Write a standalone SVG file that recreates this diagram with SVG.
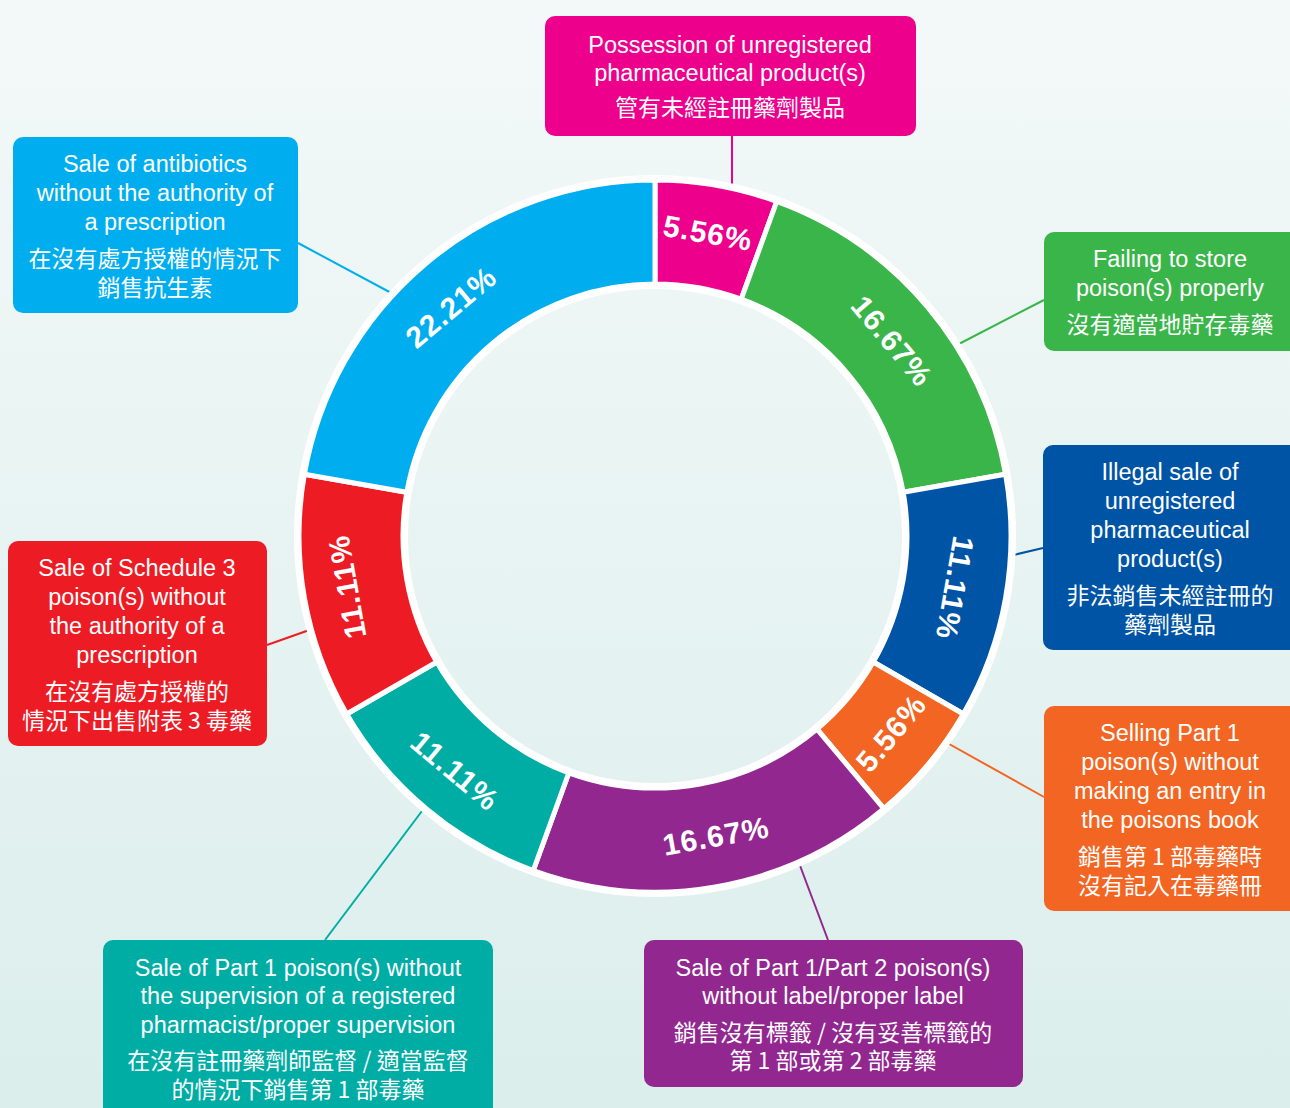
<svg xmlns="http://www.w3.org/2000/svg" width="1290" height="1108" viewBox="0 0 1290 1108">
<defs>
<linearGradient id="bg" gradientUnits="userSpaceOnUse" x1="0" y1="0" x2="0" y2="1108">
<stop offset="0" stop-color="#f3f9f8"/>
<stop offset="1" stop-color="#dbeeec"/>
</linearGradient>
<style>
.en{font-family:"Liberation Sans",Arial,sans-serif;font-size:23.5px;fill:#fff;text-anchor:middle}
.zh{font-family:"Noto Sans CJK TC","Noto Sans CJK SC",sans-serif;font-size:23px;fill:#fff;text-anchor:middle}
.pct{font-family:"Liberation Sans",Arial,sans-serif;font-size:30px;font-weight:bold;fill:#fff;text-anchor:middle;dominant-baseline:central;letter-spacing:1px}
.seg{stroke:#fff;stroke-width:5;stroke-linejoin:miter}
.con{stroke-width:2;fill:none}
</style>
</defs>
<rect width="1290" height="1108" fill="url(#bg)"/>
<g id="connectors">
<line class="con" x1="732" y1="136" x2="732" y2="195" stroke="#ec008c"/>
<line class="con" x1="298" y1="243" x2="395" y2="295" stroke="#00aeef"/>
<line class="con" x1="1044" y1="300" x2="955" y2="346" stroke="#3ab54a"/>
<line class="con" x1="1043" y1="548" x2="1005" y2="557" stroke="#0054a6"/>
<line class="con" x1="267" y1="645" x2="315" y2="628" stroke="#ed1c24"/>
<line class="con" x1="1044" y1="797" x2="942" y2="740" stroke="#f26522"/>
<line class="con" x1="325" y1="940" x2="428" y2="803" stroke="#00ada5"/>
<line class="con" x1="828" y1="940" x2="796" y2="855" stroke="#92278f"/>
</g>
<g id="ring">
<circle cx="655" cy="536" r="361" fill="#fff"/>
<circle cx="655" cy="536" r="247" fill="url(#bg)"/>
<path class="seg" fill="#ec008c" d="M655,180 A356,356 0 0 1 776.76,201.47 L741.19,299.2 A252,252 0 0 0 655,284 Z"/>
<path class="seg" fill="#3ab54a" d="M776.76,201.47 A356,356 0 0 1 1005.59,474.18 L903.17,492.24 A252,252 0 0 0 741.19,299.2 Z"/>
<path class="seg" fill="#0054a6" d="M1005.59,474.18 A356,356 0 0 1 963.31,714 L873.24,662 A252,252 0 0 0 903.17,492.24 Z"/>
<path class="seg" fill="#f26522" d="M963.31,714 A356,356 0 0 1 883.83,808.71 L816.98,729.04 A252,252 0 0 0 873.24,662 Z"/>
<path class="seg" fill="#92278f" d="M883.83,808.71 A356,356 0 0 1 533.24,870.53 L568.81,772.8 A252,252 0 0 0 816.98,729.04 Z"/>
<path class="seg" fill="#00ada5" d="M533.24,870.53 A356,356 0 0 1 346.69,714 L436.76,662 A252,252 0 0 0 568.81,772.8 Z"/>
<path class="seg" fill="#ed1c24" d="M346.69,714 A356,356 0 0 1 304.41,474.18 L406.83,492.24 A252,252 0 0 0 436.76,662 Z"/>
<path class="seg" fill="#00aeef" d="M304.41,474.18 A356,356 0 0 1 655,180 L655,284 A252,252 0 0 0 406.83,492.24 Z"/>
<text class="pct" transform="translate(708,233) rotate(10)">5.56%</text>
<text class="pct" transform="translate(892,341) rotate(50)">16.67%</text>
<text class="pct" transform="translate(955,588) rotate(100)">11.11%</text>
<text class="pct" transform="translate(891,733) rotate(-50)">5.56%</text>
<text class="pct" transform="translate(716,836) rotate(-10)">16.67%</text>
<text class="pct" transform="translate(455,771) rotate(40)">11.11%</text>
<text class="pct" transform="translate(347,587) rotate(-100)">11.11%</text>
<text class="pct" transform="translate(451,307) rotate(-40)">22.21%</text>
</g>
<g id="n-possession">
<rect x="545" y="16" width="371" height="120" rx="10" fill="#ec008c"/>
<text class="en" x="730" y="53">Possession of unregistered</text>
<text class="en" x="730" y="81">pharmaceutical product(s)</text>
<text class="zh" x="730" y="116">管有未經註冊藥劑製品</text>
</g>
<g id="n-antibiotics">
<rect x="13" y="137" width="285" height="176" rx="10" fill="#00aeef"/>
<text class="en" x="155" y="172">Sale of antibiotics</text>
<text class="en" x="155" y="201">without the authority of</text>
<text class="en" x="155" y="230">a prescription</text>
<text class="zh" x="155" y="267">在沒有處方授權的情況下</text>
<text class="zh" x="155" y="296">銷售抗生素</text>
</g>
<g id="n-store">
<rect x="1044" y="232" width="256" height="119" rx="10" fill="#3ab54a"/>
<text class="en" x="1170" y="267">Failing to store</text>
<text class="en" x="1170" y="296">poison(s) properly</text>
<text class="zh" x="1170" y="333">沒有適當地貯存毒藥</text>
</g>
<g id="n-illegal">
<rect x="1043" y="445" width="257" height="205" rx="10" fill="#0054a6"/>
<text class="en" x="1170" y="480">Illegal sale of</text>
<text class="en" x="1170" y="509">unregistered</text>
<text class="en" x="1170" y="538">pharmaceutical</text>
<text class="en" x="1170" y="567">product(s)</text>
<text class="zh" x="1170" y="604">非法銷售未經註冊的</text>
<text class="zh" x="1170" y="633">藥劑製品</text>
</g>
<g id="n-schedule3">
<rect x="8" y="541" width="259" height="205" rx="10" fill="#ed1c24"/>
<text class="en" x="137" y="576">Sale of Schedule 3</text>
<text class="en" x="137" y="605">poison(s) without</text>
<text class="en" x="137" y="634">the authority of a</text>
<text class="en" x="137" y="663">prescription</text>
<text class="zh" x="137" y="700">在沒有處方授權的</text>
<text class="zh" x="137" y="729">情況下出售附表 3 毒藥</text>
</g>
<g id="n-poisonsbook">
<rect x="1044" y="706" width="256" height="205" rx="10" fill="#f26522"/>
<text class="en" x="1170" y="741">Selling Part 1</text>
<text class="en" x="1170" y="770">poison(s) without</text>
<text class="en" x="1170" y="799">making an entry in</text>
<text class="en" x="1170" y="828">the poisons book</text>
<text class="zh" x="1170" y="865">銷售第 1 部毒藥時</text>
<text class="zh" x="1170" y="894">沒有記入在毒藥冊</text>
</g>
<g id="n-supervision">
<rect x="103" y="940" width="390" height="190" rx="10" fill="#00ada5"/>
<text class="en" x="298" y="976">Sale of Part 1 poison(s) without</text>
<text class="en" x="298" y="1004">the supervision of a registered</text>
<text class="en" x="298" y="1033">pharmacist/proper supervision</text>
<text class="zh" x="298" y="1069">在沒有註冊藥劑師監督 / 適當監督</text>
<text class="zh" x="298" y="1098">的情況下銷售第 1 部毒藥</text>
</g>
<g id="n-label">
<rect x="644" y="940" width="379" height="147" rx="10" fill="#92278f"/>
<text class="en" x="833" y="976">Sale of Part 1/Part 2 poison(s)</text>
<text class="en" x="833" y="1004">without label/proper label</text>
<text class="zh" x="833" y="1041">銷售沒有標籤 / 沒有妥善標籤的</text>
<text class="zh" x="833" y="1069">第 1 部或第 2 部毒藥</text>
</g>
</svg>
